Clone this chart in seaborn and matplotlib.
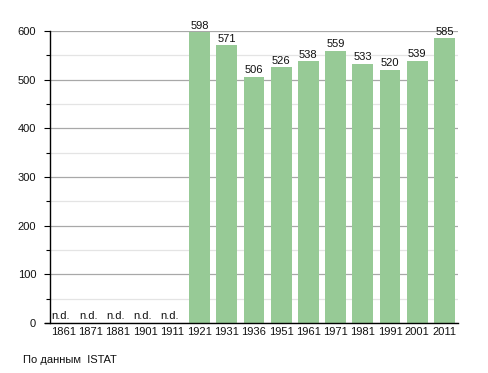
import numpy as np
import pandas as pd
import matplotlib
matplotlib.use("Agg")
import matplotlib.pyplot as plt
import seaborn as sns
from matplotlib.ticker import MultipleLocator

years = ["1861", "1871", "1881", "1901", "1911", "1921", "1931", "1936",
         "1951", "1961", "1971", "1981", "1991", "2001", "2011"]
population = [np.nan, np.nan, np.nan, np.nan, np.nan, 598, 571, 506,
              526, 538, 559, 533, 520, 539, 585]
missing_label = "n.d."
source_text = "По данным  ISTAT"

sns.set_theme(style="white")
plt.rcParams['font.family'] = ['Liberation Sans', 'DejaVu Sans']

df = pd.DataFrame({"year": years, "pop": population})

fig = plt.figure(figsize=(4.88, 3.73), dpi=100)
ax = fig.add_axes([50/488, 50/373, 408/488, 292/373])

ax.set_ylim(0, 600)
ax.yaxis.set_major_locator(MultipleLocator(100))
ax.yaxis.set_minor_locator(MultipleLocator(50))
ax.grid(which="major", axis="y", color="#a8a8a8", linewidth=0.9, zorder=0)
ax.grid(which="minor", axis="y", color="#e4e4e4", linewidth=0.9, zorder=0)
ax.set_axisbelow(True)

sns.barplot(data=df, x="year", y="pop", order=years, color="#97ca96",
            saturation=1, width=0.76, ax=ax)
for p in ax.patches:
    p.set_zorder(3)
    p.set_edgecolor("none")

txt_color = "#111111"
fs = 8
for i, v in enumerate(population):
    if np.isnan(v):
        ax.text(i - 0.1, 4, missing_label, ha="center", va="bottom", fontsize=fs, color=txt_color, zorder=4)
    else:
        ax.text(i, v + 3, f"{int(v)}", ha="center", va="bottom", fontsize=fs, color=txt_color, zorder=4)

ax.set_xlim(-0.5, len(years) - 0.5)
ax.set_xlabel("")
ax.set_ylabel("")
for s in ["top", "right"]:
    ax.spines[s].set_visible(False)
ax.spines["left"].set_color("black")
ax.spines["bottom"].set_color("black")
ax.spines["left"].set_linewidth(1.0)
ax.spines["bottom"].set_linewidth(1.0)
ax.spines["left"].set_zorder(5)
ax.spines["bottom"].set_zorder(5)
ax.spines["bottom"].set_bounds(-0.68, len(years) - 0.5)

ax.tick_params(axis="x", length=0, labelsize=fs, pad=3, colors=txt_color)
ax.tick_params(axis="y", which="major", length=4, width=0.8, color="black",
               labelsize=fs, pad=6, labelcolor=txt_color, left=True)
ax.tick_params(axis="y", which="minor", length=3, width=0.8, color="black", left=True)

fig.text(23/488, 1 - 360/373, source_text, fontsize=fs, ha="left", va="center", color=txt_color)

fig.savefig("out.png", dpi=100)
